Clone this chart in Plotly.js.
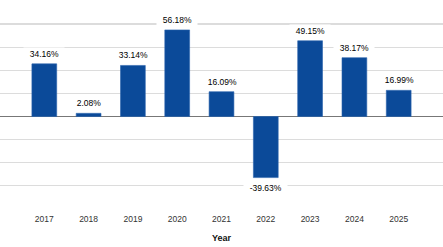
<!DOCTYPE html>
<html>
<head>
<meta charset="utf-8">
<script src="https://cdn.plot.ly/plotly-3.0.1.min.js"></script>
<style>
  html, body { margin: 0; padding: 0; background: #fff; }
  #chart { width: 443px; height: 247px; }
</style>
</head>
<body>
<div id="chart"></div>
<script>
// Annual returns by year
const years = ['2017', '2018', '2019', '2020', '2021', '2022', '2023', '2024', '2025'];
const returns = [34.16, 2.08, 33.14, 56.18, 16.09, -39.63, 49.15, 38.17, 16.99];

const barColor = '#0b4a99';
const labelFont = { family: 'Liberation Sans, Arial, sans-serif', size: 8.5, color: '#000000' };

// Value labels sit above positive bars and below negative ones, on a white box.
// On a category axis the annotation x is the category's serial number.
const labels = years.map((yr, i) => ({
  x: i,
  y: returns[i],
  xref: 'x',
  yref: 'y',
  text: '\u00a0\u00a0' + returns[i].toFixed(2) + '%\u00a0\u00a0',
  showarrow: false,
  yanchor: 'middle',
  yshift: returns[i] >= 0 ? 10 : -10,
  bgcolor: '#ffffff',
  borderpad: 1,
  font: labelFont
}));

const trace = {
  type: 'bar',
  x: years,
  y: returns,
  marker: { color: barColor, line: { color: '#2a63ad', width: 0.6 } },
  hoverinfo: 'skip'
};

const layout = {
  width: 443,
  height: 247,
  margin: { l: 0, r: 0, t: 0, b: 38 },
  paper_bgcolor: '#ffffff',
  plot_bgcolor: '#ffffff',
  showlegend: false,
  bargap: 0.44,
  xaxis: {
    type: 'category',
    range: [-1, 9],
    showgrid: false,
    showline: false,
    zeroline: false,
    ticks: '',
    ticklabelstandoff: 3,
    tickfont: { family: 'Liberation Sans, Arial, sans-serif', size: 8.5, color: '#333333' },
    title: {
      text: 'Year',
      font: { family: 'Liberation Sans, Arial, sans-serif', size: 9, color: '#111111', weight: 'bold' },
      standoff: 12
    }
  },
  yaxis: {
    range: [-60, 75.6],
    dtick: 15,
    tick0: 0,
    showticklabels: false,
    showgrid: true,
    gridcolor: '#dcdcdc',
    gridwidth: 1.2,
    zeroline: true,
    zerolinecolor: '#777777',
    zerolinewidth: 1.3,
    showline: false,
    ticks: ''
  },
  annotations: labels
};

Plotly.newPlot('chart', [trace], layout, { displayModeBar: false, staticPlot: true });
</script>
</body>
</html>
